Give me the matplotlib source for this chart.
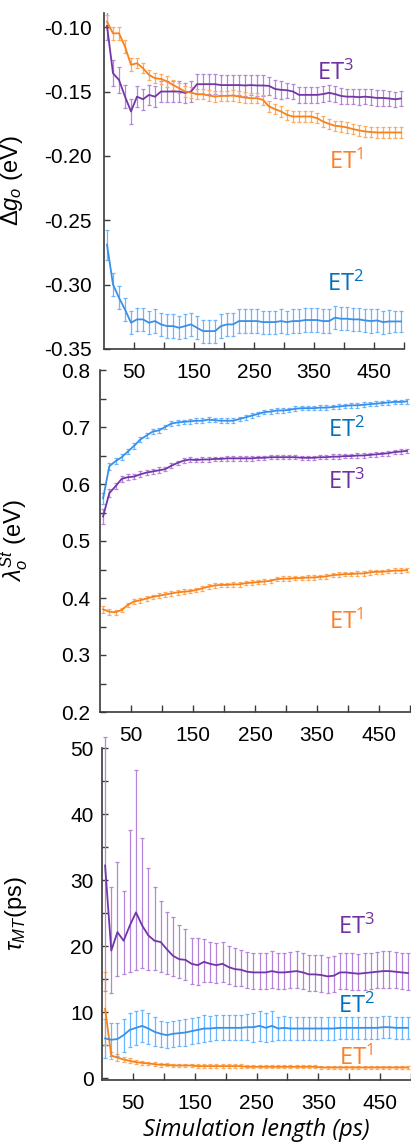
import numpy as np
import matplotlib
matplotlib.use("Agg")
import matplotlib.pyplot as plt

plt.rcParams['font.family'] = ['Liberation Sans', 'DejaVu Sans']
plt.rcParams['mathtext.fontset'] = 'custom'
plt.rcParams['mathtext.rm'] = 'Liberation Sans'
plt.rcParams['mathtext.it'] = 'Liberation Sans:italic'

# simulation length (ps) for each block
sim_len = list(range(5, 500, 10))

# --- Delta g_o (eV) ---
dg_et1 = [-0.0957, -0.1048, -0.1048, -0.1151, -0.1293, -0.1280, -0.1319, -0.1371, -0.1397, -0.1402,
          -0.1422, -0.1448, -0.1474, -0.1500, -0.1508, -0.1521, -0.1521, -0.1531, -0.1539, -0.1534,
          -0.1534, -0.1531, -0.1539, -0.1547, -0.1552, -0.1552, -0.1565, -0.1616, -0.1637, -0.1655,
          -0.1681, -0.1694, -0.1694, -0.1694, -0.1694, -0.1707, -0.1733, -0.1751, -0.1766, -0.1771,
          -0.1779, -0.1792, -0.1802, -0.1810, -0.1815, -0.1818, -0.1818, -0.1818, -0.1818, -0.1818]
dg_et2 = [-0.2689, -0.2999, -0.3102, -0.3193, -0.3296, -0.3270, -0.3270, -0.3296, -0.3283, -0.3309,
          -0.3322, -0.3322, -0.3335, -0.3322, -0.3309, -0.3335, -0.3361, -0.3361, -0.3361, -0.3322,
          -0.3309, -0.3309, -0.3283, -0.3283, -0.3283, -0.3283, -0.3291, -0.3291, -0.3291, -0.3283,
          -0.3291, -0.3283, -0.3283, -0.3275, -0.3275, -0.3275, -0.3283, -0.3283, -0.3257, -0.3265,
          -0.3265, -0.3270, -0.3270, -0.3278, -0.3283, -0.3278, -0.3291, -0.3286, -0.3286, -0.3286]
dg_et3 = [-0.0990, -0.1358, -0.1410, -0.1539, -0.1655, -0.1540, -0.1560, -0.1526, -0.1540, -0.1500,
          -0.1500, -0.1500, -0.1500, -0.1510, -0.1500, -0.1443, -0.1443, -0.1443, -0.1443, -0.1450,
          -0.1450, -0.1450, -0.1450, -0.1453, -0.1450, -0.1453, -0.1453, -0.1456, -0.1480, -0.1487,
          -0.1490, -0.1500, -0.1526, -0.1526, -0.1526, -0.1526, -0.1520, -0.1510, -0.1520, -0.1534,
          -0.1540, -0.1540, -0.1544, -0.1540, -0.1544, -0.1550, -0.1550, -0.1554, -0.1560, -0.1554]
dg_err1 = [0.005, 0.005, 0.005, 0.005, 0.005, 0.004, 0.004, 0.004, 0.004, 0.004,
           0.004, 0.004, 0.004, 0.004, 0.004, 0.004, 0.004, 0.004, 0.004, 0.004,
           0.004, 0.004, 0.004, 0.004, 0.004, 0.004, 0.004, 0.004, 0.004, 0.004,
           0.004, 0.004, 0.004, 0.004, 0.004, 0.004, 0.004, 0.004, 0.004, 0.004,
           0.004, 0.004, 0.004, 0.004, 0.004, 0.004, 0.004, 0.004, 0.004, 0.004]
dg_err2 = [0.0116, 0.009, 0.009, 0.009, 0.009, 0.009, 0.009, 0.009, 0.009, 0.009,
           0.009, 0.009, 0.009, 0.009, 0.009, 0.009, 0.009, 0.009, 0.009, 0.009,
           0.009, 0.009, 0.009, 0.009, 0.009, 0.009, 0.009, 0.009, 0.009, 0.009,
           0.009, 0.009, 0.009, 0.009, 0.009, 0.009, 0.009, 0.009, 0.009, 0.009,
           0.009, 0.009, 0.009, 0.009, 0.009, 0.009, 0.009, 0.009, 0.008, 0.008]
dg_err3 = [0.011, 0.010, 0.010, 0.009, 0.0097, 0.008, 0.008, 0.008, 0.008, 0.008,
           0.008, 0.008, 0.008, 0.008, 0.008, 0.008, 0.008, 0.008, 0.008, 0.008,
           0.008, 0.008, 0.008, 0.008, 0.008, 0.008, 0.008, 0.007, 0.007, 0.007,
           0.006, 0.006, 0.006, 0.006, 0.006, 0.006, 0.006, 0.006, 0.006, 0.006,
           0.006, 0.006, 0.006, 0.006, 0.006, 0.006, 0.006, 0.006, 0.006, 0.006]

# --- lambda_o^St (eV) ---
lam_et1 = [0.380, 0.376, 0.375, 0.379, 0.388, 0.394, 0.396, 0.399, 0.402, 0.404,
           0.406, 0.408, 0.410, 0.411, 0.412, 0.414, 0.417, 0.420, 0.422, 0.423,
           0.423, 0.424, 0.424, 0.426, 0.427, 0.428, 0.429, 0.430, 0.433, 0.434,
           0.434, 0.435, 0.435, 0.436, 0.436, 0.437, 0.438, 0.440, 0.441, 0.442,
           0.442, 0.443, 0.443, 0.445, 0.446, 0.446, 0.447, 0.448, 0.448, 0.449]
lam_et2 = [0.575, 0.631, 0.640, 0.647, 0.657, 0.667, 0.678, 0.685, 0.692, 0.694,
           0.700, 0.706, 0.708, 0.709, 0.710, 0.711, 0.711, 0.713, 0.712, 0.711,
           0.711, 0.711, 0.714, 0.717, 0.720, 0.723, 0.726, 0.727, 0.729, 0.729,
           0.730, 0.732, 0.733, 0.733, 0.733, 0.734, 0.734, 0.735, 0.736, 0.737,
           0.738, 0.738, 0.739, 0.740, 0.741, 0.742, 0.743, 0.744, 0.744, 0.745]
lam_et3 = [0.543, 0.584, 0.596, 0.609, 0.612, 0.613, 0.617, 0.620, 0.622, 0.624,
           0.626, 0.632, 0.637, 0.641, 0.643, 0.642, 0.643, 0.643, 0.644, 0.644,
           0.645, 0.645, 0.645, 0.645, 0.645, 0.646, 0.646, 0.647, 0.647, 0.647,
           0.647, 0.647, 0.646, 0.646, 0.646, 0.647, 0.647, 0.648, 0.648, 0.649,
           0.649, 0.650, 0.650, 0.651, 0.652, 0.653, 0.654, 0.656, 0.657, 0.658]
lam_err1 = [0.006, 0.005, 0.004, 0.004, 0.004, 0.004, 0.004, 0.004, 0.004, 0.004,
            0.004, 0.004, 0.004, 0.004, 0.004, 0.004, 0.004, 0.004, 0.004, 0.004,
            0.004, 0.004, 0.004, 0.004, 0.004, 0.004, 0.004, 0.004, 0.004, 0.004,
            0.004, 0.004, 0.004, 0.004, 0.004, 0.004, 0.004, 0.004, 0.004, 0.004,
            0.004, 0.004, 0.004, 0.004, 0.004, 0.004, 0.004, 0.004, 0.004, 0.004]
lam_err2 = [0.010, 0.006, 0.005, 0.005, 0.005, 0.005, 0.005, 0.005, 0.005, 0.005,
            0.004, 0.004, 0.004, 0.004, 0.004, 0.004, 0.004, 0.004, 0.004, 0.004,
            0.004, 0.004, 0.004, 0.004, 0.004, 0.004, 0.004, 0.004, 0.004, 0.004,
            0.004, 0.004, 0.004, 0.004, 0.004, 0.004, 0.004, 0.004, 0.004, 0.004,
            0.004, 0.004, 0.004, 0.004, 0.004, 0.004, 0.004, 0.004, 0.004, 0.004]
lam_err3 = [0.013, 0.007, 0.005, 0.005, 0.005, 0.005, 0.005, 0.005, 0.005, 0.005,
            0.004, 0.004, 0.004, 0.004, 0.004, 0.004, 0.004, 0.004, 0.004, 0.004,
            0.004, 0.004, 0.004, 0.004, 0.004, 0.004, 0.004, 0.004, 0.004, 0.004,
            0.004, 0.004, 0.004, 0.004, 0.004, 0.004, 0.004, 0.004, 0.004, 0.004,
            0.004, 0.004, 0.004, 0.004, 0.004, 0.004, 0.004, 0.004, 0.004, 0.004]

# --- tau_MT (ps) ---
tau_et1 = [10.5, 3.4, 3.1, 2.8, 2.6, 2.4, 2.3, 2.2, 2.1, 2.0,
           2.0, 1.9, 1.9, 1.9, 1.9, 1.8, 1.8, 1.8, 1.8, 1.8,
           1.8, 1.8, 1.8, 1.7, 1.7, 1.7, 1.7, 1.7, 1.7, 1.7,
           1.7, 1.7, 1.7, 1.7, 1.7, 1.6, 1.6, 1.6, 1.6, 1.6,
           1.6, 1.6, 1.6, 1.6, 1.6, 1.6, 1.6, 1.6, 1.6, 1.6]
tau_et2 = [6.0, 5.8, 5.9, 6.5, 7.3, 7.6, 7.9, 7.5, 7.0, 6.7,
           6.5, 6.7, 6.8, 6.9, 7.1, 7.3, 7.5, 7.5, 7.6, 7.6,
           7.6, 7.6, 7.6, 7.7, 7.7, 7.9, 7.6, 7.9, 7.5, 7.6,
           7.5, 7.5, 7.5, 7.5, 7.5, 7.5, 7.5, 7.5, 7.6, 7.6,
           7.6, 7.6, 7.6, 7.6, 7.6, 7.7, 7.7, 7.6, 7.6, 7.6]
tau_et3 = [32.2, 19.3, 22.1, 20.8, 23.1, 25.1, 23.1, 21.6, 20.8, 20.6,
           19.5, 18.5, 18.0, 17.9, 17.3, 17.1, 17.6, 17.3, 17.1, 17.3,
           16.8, 16.5, 16.4, 16.1, 16.0, 16.0, 16.0, 16.2, 16.0, 16.0,
           16.1, 16.2, 16.0, 15.7, 15.7, 15.6, 15.4, 15.5, 16.0, 16.0,
           15.9, 15.8, 15.9, 16.0, 16.1, 16.2, 16.2, 16.1, 16.0, 15.9]
tau_err1 = [5.5, 0.5, 0.5, 0.4, 0.4, 0.3, 0.3, 0.3, 0.3, 0.3,
            0.25, 0.25, 0.25, 0.25, 0.25, 0.25, 0.25, 0.25, 0.25, 0.25,
            0.25, 0.25, 0.25, 0.25, 0.25, 0.25, 0.25, 0.25, 0.25, 0.25,
            0.25, 0.25, 0.25, 0.25, 0.25, 0.25, 0.25, 0.25, 0.25, 0.25,
            0.25, 0.25, 0.25, 0.25, 0.25, 0.25, 0.25, 0.25, 0.25, 0.25]
tau_err2 = [3.0, 2.5, 2.5, 2.5, 2.6, 2.6, 2.4, 2.3, 2.2, 2.0,
            2.0, 2.0, 2.0, 2.0, 2.0, 2.0, 2.0, 1.9, 1.9, 1.9,
            1.9, 1.9, 1.9, 2.0, 2.2, 2.3, 2.2, 2.3, 1.8, 1.8,
            1.8, 1.8, 1.7, 1.7, 1.7, 1.7, 1.7, 1.7, 1.7, 1.7,
            1.7, 1.7, 1.7, 1.7, 1.7, 1.7, 1.7, 1.7, 1.7, 1.7]
tau_err3_lo = [19.0, 6.4, 6.6, 5.1, 7.1, 8.7, 6.5, 5.2, 4.4, 4.6,
               3.8, 3.0, 2.8, 3.1, 3.0, 3.0, 3.1, 2.8, 2.7, 2.7,
               2.6, 2.6, 2.5, 2.5, 2.5, 2.5, 2.5, 2.5, 2.5, 2.5,
               2.5, 2.5, 2.5, 2.5, 2.5, 2.5, 2.5, 2.5, 2.5, 2.5,
               2.5, 2.5, 2.5, 2.5, 2.5, 2.5, 2.5, 2.5, 2.5, 2.5]
tau_err3_hi = [19.5, 9.6, 10.6, 7.6, 14.5, 21.6, 13.2, 10.2, 8.1, 6.2,
               5.6, 5.9, 5.2, 4.7, 3.9, 4.1, 3.5, 3.3, 3.3, 3.3,
               3.2, 3.2, 3.0, 3.0, 3.0, 3.0, 3.0, 3.0, 3.0, 3.0,
               3.0, 3.0, 3.0, 3.0, 3.0, 3.0, 3.0, 3.0, 3.0, 3.0,
               3.0, 3.0, 3.0, 3.0, 3.0, 3.0, 3.0, 3.0, 3.0, 3.0]

# colours: (line, error bar, label)
c_et1 = ('#f7821b', '#ffab5e', '#ff7f27')
c_et2 = ('#3a90e8', '#6cb6ff', '#0070c0')
c_et3 = ('#7336a8', '#b585dc', '#7030a0')

W, H = 411, 1145
fig = plt.figure(figsize=(W / 100, H / 100), dpi=100)

ax3 = fig.add_axes([102 / W, 1 - 1080 / H, 309 / W, 332 / H])
ax2 = fig.add_axes([100 / W, 1 - 712 / H, 310 / W, 342 / H])
ax1 = fig.add_axes([104 / W, 1 - 349 / H, 300 / W, 336 / H])
for ax in (ax1, ax2, ax3):
    ax.patch.set_visible(False)


def draw(ax, y, err, col, clip=True):
    ax.errorbar(sim_len, y, yerr=err, color=col[0], ecolor=col[1],
                lw=1.3, elinewidth=0.9, capsize=1.6, capthick=0.9,
                clip_on=clip, zorder=3)


def style(ax):
    for s in ('top', 'right'):
        ax.spines[s].set_visible(False)
    for s in ('left', 'bottom'):
        ax.spines[s].set_color('#3a3a3a')
        ax.spines[s].set_linewidth(1.2)
    ax.set_xlim(0, 500)
    ax.set_xticks([50, 150, 250, 350, 450])
    ax.set_xticks([100, 200, 300, 400, 500], minor=True)
    ax.tick_params(axis='both', which='both', direction='in', length=4,
                   width=1, color='#3a3a3a', labelsize=15)
    ax.tick_params(axis='x', which='both', length=5, pad=10)


def label(ax, num, x, y, col):
    ax.text(x, y, r'$\mathregular{ET^{%s}}$' % num, color=col[2], fontsize=17,
            family=['Open Sans', 'DejaVu Sans'], ha='center', va='center')


# Delta g_o
draw(ax1, dg_et3, dg_err3, c_et3)
draw(ax1, dg_et1, dg_err1, c_et1)
draw(ax1, dg_et2, dg_err2, c_et2)
style(ax1)
ax1.set_ylim(-0.35, -0.089)
ax1.set_yticks([-0.35, -0.30, -0.25, -0.20, -0.15, -0.10])
ax1.set_yticklabels(['-0.35', '-0.30', '-0.25', '-0.20', '-0.15', '-0.10'])
ax1.tick_params(axis='y', pad=9)
ax1.set_ylabel(r'$\Delta g_o$ (eV)', fontsize=17)
ax1.yaxis.set_label_coords(-0.265, 0.5)
label(ax1, '3', 385, -0.136, c_et3)
label(ax1, '1', 403, -0.205, c_et1)
label(ax1, '2', 403, -0.300, c_et2)

# lambda_o^St
draw(ax2, lam_et1, lam_err1, c_et1)
draw(ax2, lam_et3, lam_err3, c_et3)
draw(ax2, lam_et2, lam_err2, c_et2)
style(ax2)
ax2.set_ylim(0.2, 0.8)
ax2.set_yticks([0.2, 0.3, 0.4, 0.5, 0.6, 0.7, 0.8])
ax2.set_yticks([0.25, 0.35, 0.45, 0.55, 0.65, 0.75], minor=True)
ax2.tick_params(axis='y', pad=7)
ax2.set_ylabel(r'$\lambda_o^{St}$ (eV)', fontsize=17)
ax2.yaxis.set_label_coords(-0.225, 0.5)
label(ax2, '2', 397, 0.695, c_et2)
label(ax2, '3', 397, 0.6035, c_et3)
label(ax2, '1', 397, 0.358, c_et1)

# tau_MT
draw(ax3, tau_et1, tau_err1, c_et1)
draw(ax3, tau_et2, tau_err2, c_et2)
draw(ax3, tau_et3, [tau_err3_lo, tau_err3_hi], c_et3, clip=False)
style(ax3)
ax3.set_ylim(-0.3, 50)
ax3.set_yticks([0, 10, 20, 30, 40, 50])
ax3.set_yticks([5, 15, 25, 35, 45], minor=True)
ax3.tick_params(axis='y', pad=6)
ax3.set_ylabel(r'$\tau_{MT}$(ps)', fontsize=17)
ax3.yaxis.set_label_coords(-0.235, 0.5)
ax3.set_xlabel('Simulation length (ps)', fontsize=17, style='italic',
               family=['Open Sans', 'DejaVu Sans'], labelpad=4)
label(ax3, '3', 411, 22.9, c_et3)
label(ax3, '2', 411, 10.8, c_et2)
label(ax3, '1', 411, 3.0, c_et1)

fig.savefig('out.png', dpi=100)
